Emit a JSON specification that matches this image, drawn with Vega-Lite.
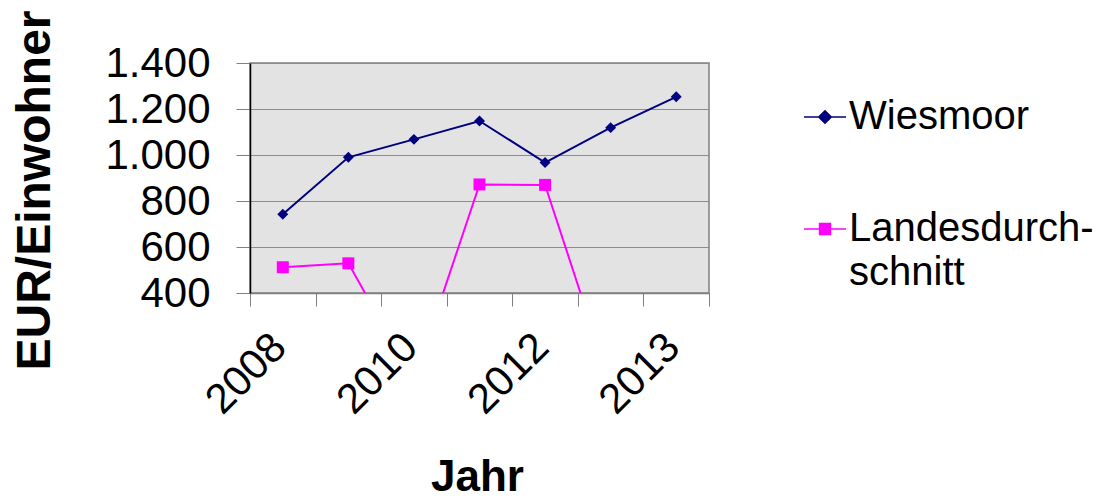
{
  "$schema": "https://vega.github.io/schema/vega-lite/v6.json",
  "width": 459,
  "height": 230,
  "autosize": "none",
  "padding": {"left": 250, "top": 63, "right": 408, "bottom": 208},
  "background": "white",
  "config": {
    "font": "Liberation Sans",
    "view": {"fill": "#e3e3e3", "stroke": "#808080", "strokeWidth": 1.5}
  },
  "data": {
    "values": [
      {"Nr": 1, "Reihe": "Wiesmoor", "Wert": 742},
      {"Nr": 2, "Reihe": "Wiesmoor", "Wert": 990},
      {"Nr": 3, "Reihe": "Wiesmoor", "Wert": 1068},
      {"Nr": 4, "Reihe": "Wiesmoor", "Wert": 1148},
      {"Nr": 5, "Reihe": "Wiesmoor", "Wert": 967},
      {"Nr": 6, "Reihe": "Wiesmoor", "Wert": 1119},
      {"Nr": 7, "Reihe": "Wiesmoor", "Wert": 1253},
      {"Nr": 1, "Reihe": "Landesdurchschnitt", "Wert": 512},
      {"Nr": 2, "Reihe": "Landesdurchschnitt", "Wert": 529},
      {"Nr": 3, "Reihe": "Landesdurchschnitt", "Wert": 22},
      {"Nr": 4, "Reihe": "Landesdurchschnitt", "Wert": 872},
      {"Nr": 5, "Reihe": "Landesdurchschnitt", "Wert": 870},
      {"Nr": 6, "Reihe": "Landesdurchschnitt", "Wert": 0}
    ]
  },
  "encoding": {
    "x": {
      "field": "Nr",
      "type": "ordinal",
      "scale": {"domain": [1, 2, 3, 4, 5, 6, 7], "paddingInner": 0, "paddingOuter": 0},
      "axis": {
        "title": "Jahr",
        "titleFontSize": 44,
        "titleFontWeight": "bold",
        "titleColor": "black",
        "titleX": 227,
        "titleY": 184,
        "titleBaseline": "middle",
        "titleAlign": "center",
        "labelExpr": "datum.value == 1 ? '2008' : datum.value == 3 ? '2010' : datum.value == 5 ? '2012' : datum.value == 7 ? '2013' : ''",
        "labelAngle": -45,
        "labelFontSize": 42,
        "labelColor": "black",
        "labelPadding": 20,
        "labelOffset": -18,
        "tickBand": "extent",
        "tickSize": 13,
        "tickColor": "#808080",
        "domainColor": "#808080",
        "domainWidth": 1.5,
        "grid": false
      }
    },
    "y": {
      "field": "Wert",
      "type": "quantitative",
      "scale": {"domain": [400, 1400], "nice": false, "zero": false},
      "axis": {
        "title": "EUR/Einwohner",
        "titleFontSize": 48,
        "titleFontWeight": "bold",
        "titleColor": "black",
        "titleAngle": 270,
        "titleX": -215,
        "titleY": 127,
        "titleAlign": "center",
        "titleBaseline": "middle",
        "values": [400, 600, 800, 1000, 1200, 1400],
        "labelExpr": "replace(format(datum.value, ','), ',', '.')",
        "labelFontSize": 42,
        "labelColor": "black",
        "labelPadding": 26,
        "tickSize": 14,
        "tickColor": "#808080",
        "domainColor": "black",
        "domainWidth": 1.5,
        "gridColor": "#8c8c8c",
        "gridWidth": 1
      }
    }
  },
  "layer": [
    {
      "mark": {"type": "line", "clip": true, "strokeWidth": 2},
      "encoding": {
        "color": {
          "field": "Reihe",
          "type": "nominal",
          "scale": {"domain": ["Wiesmoor", "Landesdurchschnitt"], "range": ["#000080", "#ff00ff"]},
          "legend": {
            "title": null,
            "orient": "none",
            "legendX": 553,
            "legendY": 32,
            "labelFontSize": 40,
            "labelColor": "black",
            "labelOffset": 2,
            "labelLimit": 0,
            "rowPadding": 70,
            "symbolSize": 1764,
            "labelExpr": "datum.label == 'Landesdurchschnitt' ? ['Landesdurch-', 'schnitt'] : datum.label",
            "encode": {
              "symbols": {
                "update": {
                  "shape": {"signal": "datum.value == 'Wiesmoor' ? 'M-1,0H1M-0.3,0L0,-0.3L0.3,0L0,0.3Z' : 'M-1,0H1M-0.26,-0.26H0.26V0.26H-0.26Z'"},
                  "fill": {"signal": "datum.value == 'Wiesmoor' ? '#000080' : '#ff00ff'"},
                  "stroke": {"signal": "datum.value == 'Wiesmoor' ? '#000080' : '#ff00ff'"},
                  "strokeWidth": {"value": 1.5},
                  "opacity": {"value": 1}
                }
              },
              "labels": {"update": {"lineHeight": {"value": 44}}}
            }
          }
        }
      }
    },
    {
      "transform": [{"filter": "datum.Reihe == 'Wiesmoor'"}],
      "mark": {"type": "point", "shape": "diamond", "filled": true, "size": 120, "color": "#000080", "opacity": 1, "clip": true}
    },
    {
      "transform": [{"filter": "datum.Reihe == 'Landesdurchschnitt'"}],
      "mark": {"type": "point", "shape": "square", "filled": true, "size": 144, "color": "#ff00ff", "opacity": 1, "clip": true}
    }
  ]
}
